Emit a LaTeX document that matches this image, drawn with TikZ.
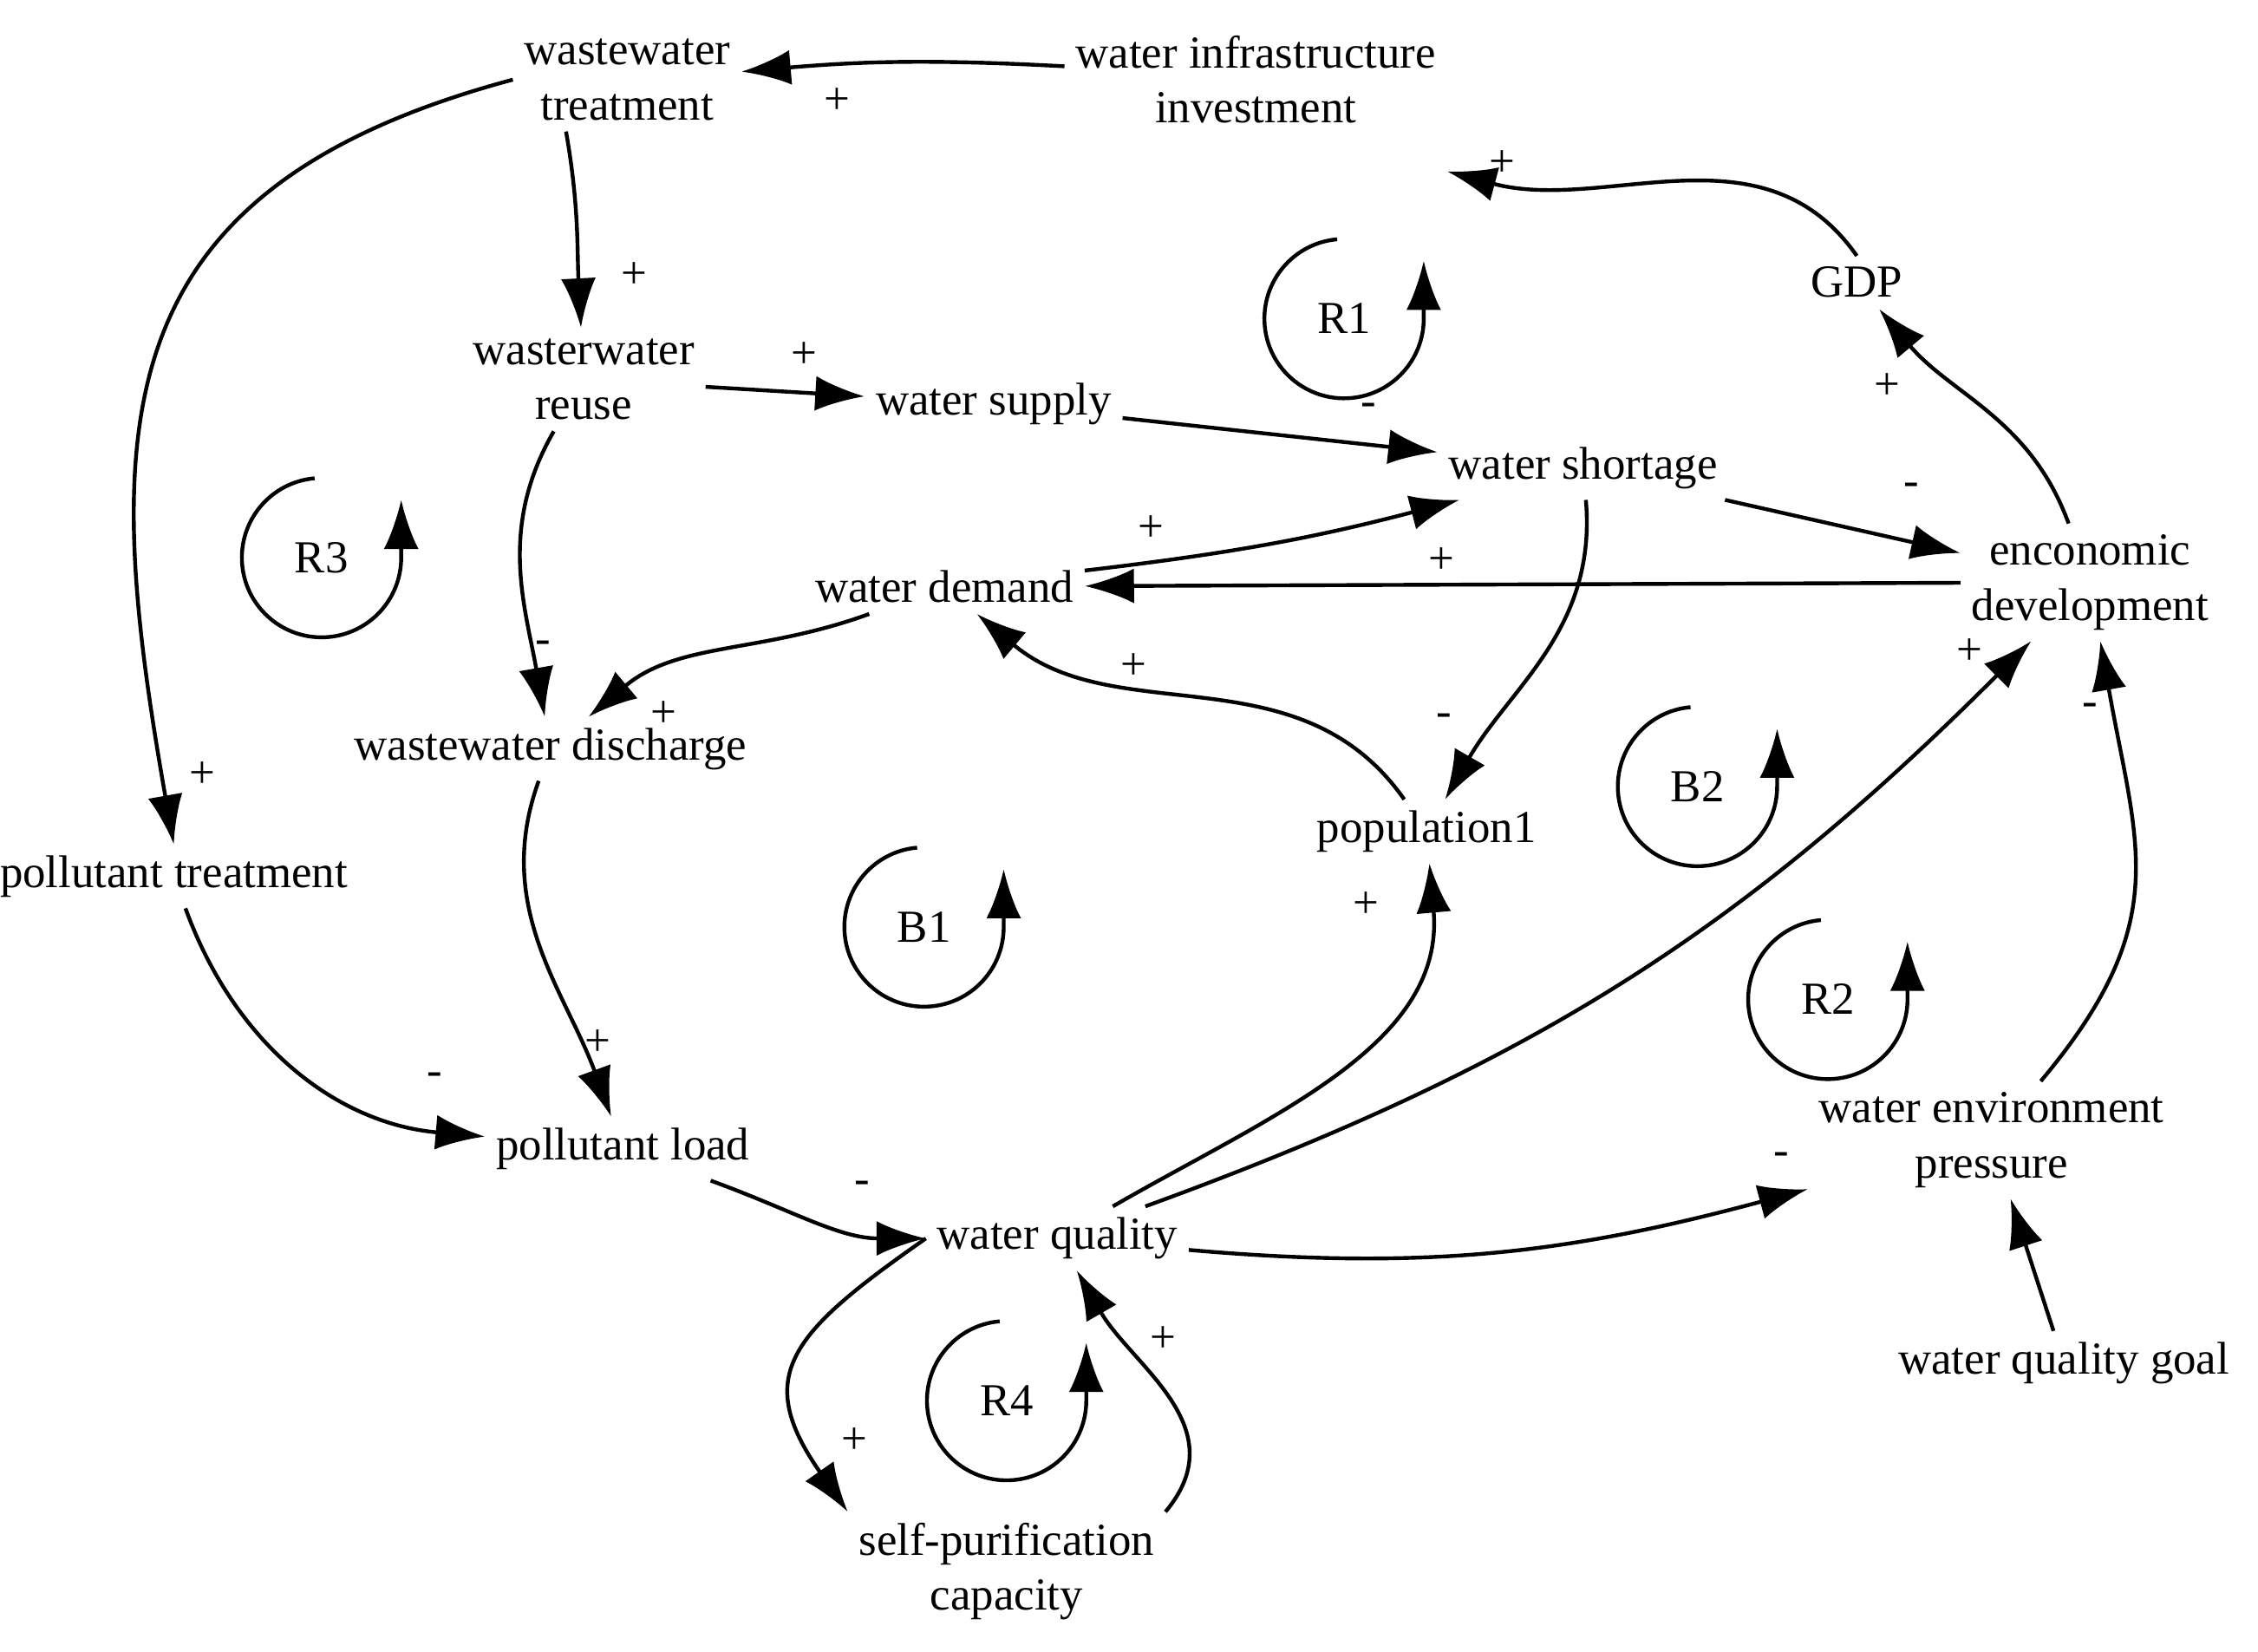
\documentclass[tikz,border=0pt]{standalone}
\usepackage{fontspec}
\setmainfont{Liberation Serif}
\usetikzlibrary{arrows.meta}
\begin{document}
\begin{tikzpicture}[x=0.01cm,y=0.01cm,
  var/.style={inner sep=2pt,align=center,font=\fontsize{9}{10.8}\selectfont},
  pol/.style={inner sep=0pt,font=\fontsize{9}{10}\selectfont},
  lnk/.style={draw,line width=0.75pt,-{Latex[length=3.4mm,width=2.4mm]}},
  lp/.style={font=\fontsize{9}{11}\selectfont}]
\useasboundingbox (0,0) rectangle (1559,-1140);
% variables
\node[var] (wt) at (433,-55) {wastewater\\treatment};
\node[var] (wii) at (867,-55) {water infrastructure\\investment};
\node[var] (gdp) at (1282,-195) {GDP};
\node[var] (wr) at (403,-262) {wasterwater\\reuse};
\node[var] (ws) at (686,-279) {water supply};
\node[var] (wsh) at (1093,-323) {water shortage};
\node[var] (ed) at (1443,-402) {enconomic\\development};
\node[var] (wd) at (652,-405) {water demand};
\node[var] (wdis) at (380,-517) {wastewater discharge};
\node[var] (pop) at (985,-574) {population1};
\node[var] (pt) at (120,-605) {pollutant treatment};
\node[var] (pl) at (430,-793) {pollutant load};
\node[var] (wq) at (730,-855) {water quality};
\node[var] (wep) at (1375,-787) {water environment\\pressure};
\node[var] (wqg) at (1425,-941) {water quality goal};
\node[var] (spc) at (695,-1085) {self-purification\\capacity};
% links
\path[lnk] (wii) to[bend right=4] (wt);
\path[lnk] (gdp.north) to[out=125,in=-15] ([yshift=-18]wii.east);
\path[lnk] (ed) to[out=110,in=-50] (gdp);
\path[lnk] ([xshift=-12]wt.south) to[out=-80,in=93] (wr);
\path[lnk] (wr) -- (ws);
\path[lnk] (ws) -- (wsh);
\path[lnk] (wsh) -- (ed);
\path[lnk] (wd) to[bend right=4] (wsh);
\path[lnk] (ed) -- (wd);
\path[lnk] (wsh) to[out=-85,in=60] (pop);
\path[lnk] (pop) to[out=125,in=-40] (wd);
\path[lnk] (wr) to[out=-120,in=100] (wdis);
\path[lnk] (wd) to[out=200,in=40] (wdis);
\path[lnk] (wt.west) to[out=195,in=100,looseness=1.3] (pt.north);
\path[lnk] (pt) to[out=-70,in=175] (pl);
\path[lnk] (wdis) to[out=-110,in=110] (pl);
\path[lnk] (pl) to[out=-20,in=180] (wq);
\path[lnk] (wq) to[out=30,in=-85] (pop);
\path[lnk] (wq) to[out=20,in=-135] (ed);
\path[lnk] (wq) to[out=-5,in=195] (wep);
\path[lnk] (wep) to[out=50,in=-80,looseness=1.2] (ed);
\path[lnk] (wqg) -- (wep);
\path[lnk] (wq.west) to[out=215,in=125,looseness=1.5] (spc.north west);
\path[lnk] (spc.north east) to[out=50,in=-60,looseness=1.1] ([xshift=-22]wq.south east);
% polarities
\node[pol] (p1) at (578,-70) {+};
\node[pol] (p2) at (1037,-113) {+};
\node[pol] (p3) at (1303,-267) {+};
\node[pol] (p4) at (438,-190) {+};
\node[pol] (p5) at (555,-245) {+};
\node[pol] (p6) at (945,-283) {-};
\node[pol] (p7) at (1320,-338) {-};
\node[pol] (p8) at (795,-365) {+};
\node[pol] (p9) at (995,-387) {+};
\node[pol] (p10) at (997,-497) {-};
\node[pol] (p11) at (783,-460) {+};
\node[pol] (p12) at (375,-447) {-};
\node[pol] (p13) at (458,-493) {+};
\node[pol] (p14) at (140,-535) {+};
\node[pol] (p15) at (300,-745) {-};
\node[pol] (p16) at (413,-720) {+};
\node[pol] (p17) at (595,-820) {-};
\node[pol] (p18) at (943,-625) {+};
\node[pol] (p19) at (1360,-450) {+};
\node[pol] (p20) at (1230,-800) {-};
\node[pol] (p21) at (1443,-490) {-};
\node[pol] (p22) at (590,-995) {+};
\node[pol] (p23) at (803,-925) {+};
% loops
\foreach \n/\x/\y in {R1/928/-220,R3/222/-385,B1/638/-640,B2/1172/-543,R2/1262/-690,R4/695/-967}{
  \node[lp] (l\n) at (\x,\y) {\n};
  \draw[lnk] ([shift={(95:55)}]\x,\y) arc (95:360:55) -- ++(0,40);
}
\end{tikzpicture}
\end{document}
